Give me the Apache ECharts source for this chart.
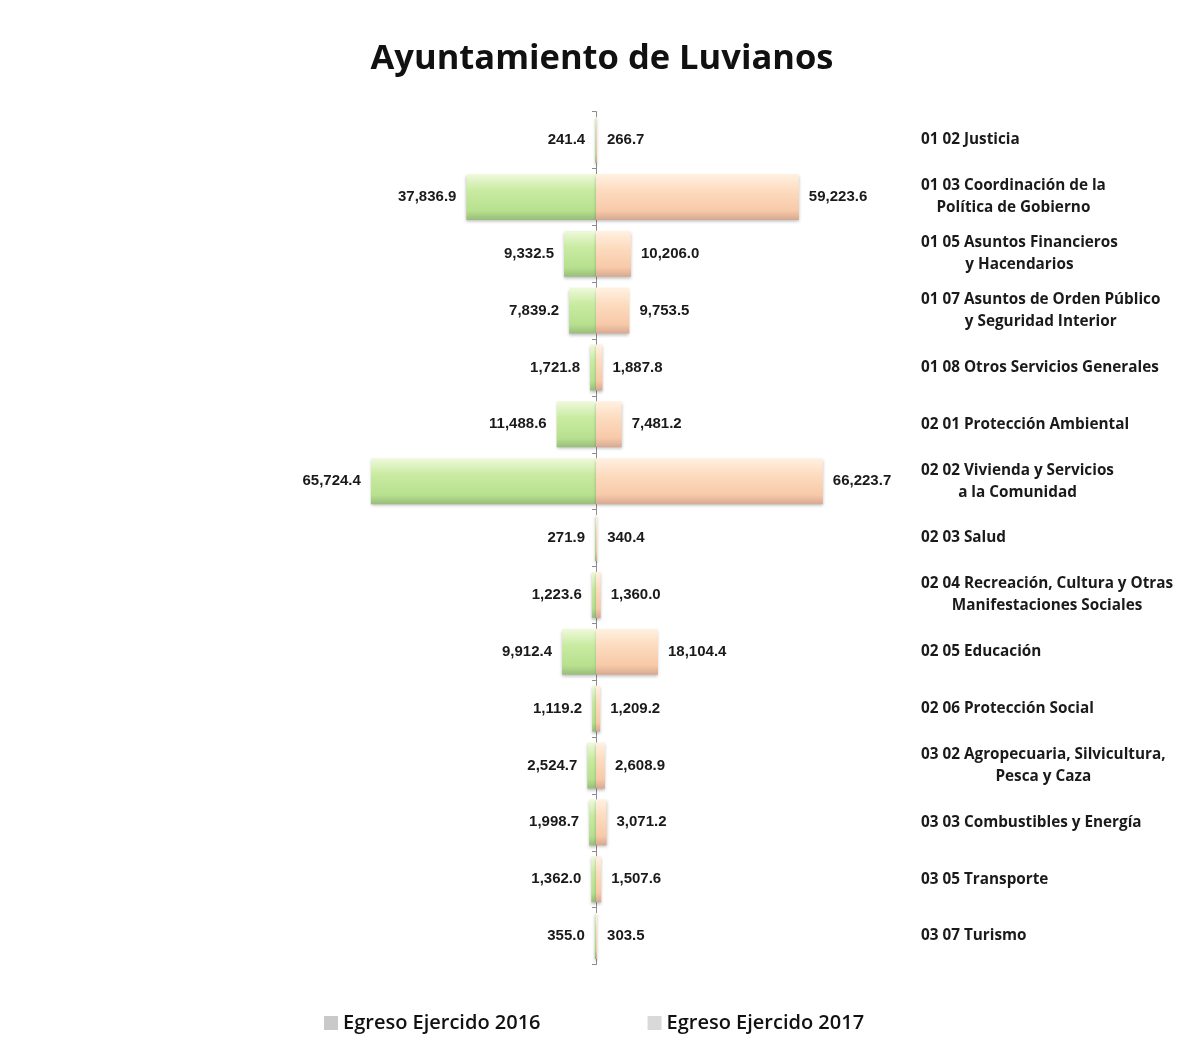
<!DOCTYPE html>
<html><head><meta charset="utf-8">
<script src="https://cdn.jsdelivr.net/npm/echarts@6/dist/echarts.min.js"></script>
<style>html,body{margin:0;padding:0;background:#fff}#c{width:1204px;height:1057px}</style>
</head><body><div id="c"></div>
<script>
const categories = [
  "01 02 Justicia",
  "01 03 Coordinación de la\nPolítica de Gobierno",
  "01 05 Asuntos Financieros\ny Hacendarios",
  "01 07 Asuntos de Orden Público\ny Seguridad Interior",
  "01 08 Otros Servicios Generales",
  "02 01 Protección Ambiental",
  "02 02 Vivienda y Servicios\na la Comunidad",
  "02 03 Salud",
  "02 04 Recreación, Cultura y Otras\nManifestaciones Sociales",
  "02 05 Educación",
  "02 06 Protección Social",
  "03 02 Agropecuaria, Silvicultura,\nPesca y Caza",
  "03 03 Combustibles y Energía",
  "03 05 Transporte",
  "03 07 Turismo"
];
const egreso2016 = [241.4, 37836.9, 9332.5, 7839.2, 1721.8, 11488.6, 65724.4, 271.9, 1223.6, 9912.4, 1119.2, 2524.7, 1998.7, 1362.0, 355.0];
const egreso2017 = [266.7, 59223.6, 10206.0, 9753.5, 1887.8, 7481.2, 66223.7, 340.4, 1360.0, 18104.4, 1209.2, 2608.9, 3071.2, 1507.6, 303.5];
const seriesNames = ["Egreso Ejercido 2016", "Egreso Ejercido 2017"];
const titleText = "Ayuntamiento de Luvianos";

const fmt = v => Math.abs(v).toLocaleString('en-US', {minimumFractionDigits: 1, maximumFractionDigits: 1});
const lblFont = {fontFamily: '"Liberation Sans Narrow", "Arial Narrow", "Liberation Sans", sans-serif', fontSize: 15, fontWeight: 'bold', color: '#1a1a1a'};

const green = new echarts.graphic.LinearGradient(0, 0, 0, 1, [
  {offset: 0, color: '#f0f9dc'}, {offset: 0.35, color: '#c9eba2'},
  {offset: 0.8, color: '#b7e08e'}, {offset: 1, color: '#98bd7a'}]);
const peach = new echarts.graphic.LinearGradient(0, 0, 0, 1, [
  {offset: 0, color: '#fff1e2'}, {offset: 0.35, color: '#fddcc0'},
  {offset: 0.8, color: '#f7c9a8'}, {offset: 1, color: '#d6a891'}]);

const chart = echarts.init(document.getElementById('c'), null, {renderer: 'canvas'});
chart.setOption({
  backgroundColor: '#fff',
  animation: false,
  title: {text: titleText, left: 'center', top: 37,
    textStyle: {fontFamily: '"Open Sans", Lato, sans-serif', fontSize: 34.5, fontWeight: 'bold', color: '#111'}},
  legend: {
    bottom: 19, left: 319, itemGap: 107, itemWidth: 14, itemHeight: 14, icon: 'rect',
    textStyle: {fontFamily: '"Open Sans", Lato, sans-serif', fontSize: 20, fontWeight: 600, color: '#111'},
    data: [
      {name: seriesNames[0], itemStyle: {color: '#c9c9c9'}},
      {name: seriesNames[1], itemStyle: {color: '#d9d9d9'}}
    ]
  },
  grid: {left: 298, width: 596, top: 111.6, height: 852.9, containLabel: false},
  xAxis: {type: 'value', min: -87000, max: 87000, show: false},
  yAxis: [
    {type: 'category', data: categories, inverse: true,
      axisLine: {show: true, onZero: true, lineStyle: {color: '#8c8c8c', width: 1}},
      axisTick: {show: true, length: 4, lineStyle: {color: '#8c8c8c'}},
      axisLabel: {show: false}},
    {type: 'category', data: categories, inverse: true, position: 'right',
      axisLine: {show: false, onZero: false}, axisTick: {show: false},
      axisLabel: {
        align: 'left', margin: 27,
        formatter: v => v.split('\n').map(l => '{c|' + l + '}').join('\n'),
        rich: {c: {align: 'center', fontFamily: '"Open Sans", Lato, sans-serif', fontSize: 15.3, fontWeight: 'bold', color: '#1a1a1a', lineHeight: 22}}
      }}
  ],
  series: [
    {name: seriesNames[0], type: 'bar', stack: 'a', barWidth: 46, yAxisIndex: 0,
      data: egreso2016.map(v => -v),
      itemStyle: {color: green, shadowBlur: 3, shadowColor: 'rgba(0,0,0,0.25)', shadowOffsetY: 2},
      label: {show: true, position: 'left', distance: 10, formatter: p => fmt(p.value), ...lblFont}},
    {name: seriesNames[1], type: 'bar', stack: 'a', barWidth: 46, yAxisIndex: 0,
      data: egreso2017.slice(),
      itemStyle: {color: peach, shadowBlur: 3, shadowColor: 'rgba(0,0,0,0.25)', shadowOffsetY: 2},
      label: {show: true, position: 'right', distance: 10, formatter: p => fmt(p.value), ...lblFont}}
  ]
});
</script></body></html>
